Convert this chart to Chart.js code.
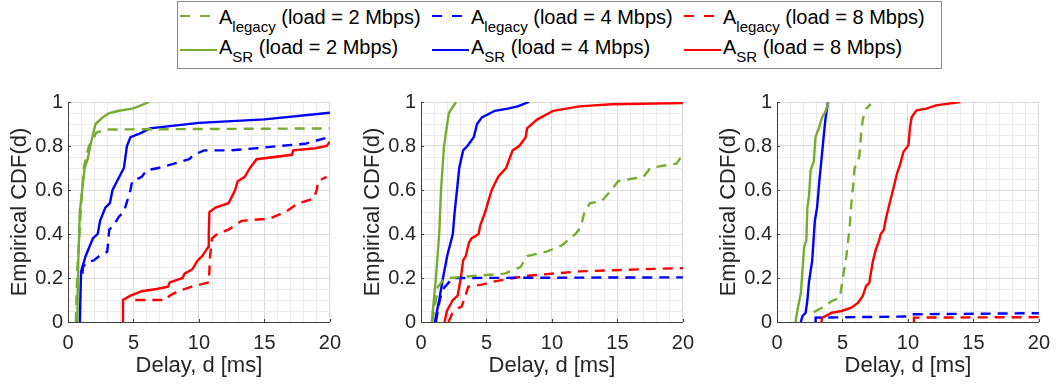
<!DOCTYPE html>
<html>
<head>
<meta charset="utf-8">
<title>Empirical CDF of delay</title>
<script src="https://cdn.jsdelivr.net/npm/chart.js@4/dist/chart.umd.min.js"></script>
<style>
  html, body { margin: 0; padding: 0; background: #fff; }
  body { width: 1059px; height: 388px; position: relative; overflow: hidden;
         font-family: "Liberation Sans", Arial, Helvetica, sans-serif; color: #262626; }
  canvas { position: absolute; top: 85px; }
  #legend { position: absolute; left: 177px; top: 1px; width: 763px; height: 66px;
            border: 1px solid #8a8a8a; background: #fff; }
  .lg-text { position: absolute; white-space: nowrap; font-size: 20px; line-height: 20px; color: #000; }
  .lg-text sub { font-size: 15px; vertical-align: -8px; line-height: 0; }
  .lg-line { position: absolute; overflow: visible; }
</style>
</head>
<body>
<div id="legend"></div>
<div id="legend-items"></div>
<canvas id="p1" width="350" height="303" style="left:0px"></canvas>
<canvas id="p2" width="350" height="303" style="left:353px"></canvas>
<canvas id="p3" width="350" height="303" style="left:709px"></canvas>

<script>
// ---- colours ----
const GREEN = '#77AC30';
const BLUE = '#0000FF';
const RED = '#FF0000';

// ---- axis ticks ----
const xMajorTicks = [0, 5, 10, 15, 20];
const yMajorTicks = [0, 0.2, 0.4, 0.6, 0.8, 1];

// ---- panel 1: delay [ms] / empirical CDF ----
const p1_leg2_x = [0.6, 0.72, 0.97, 1.2, 1.6, 2.0, 2.15, 2.9, 20];
const p1_leg2_y = [0, 0.25, 0.5, 0.7, 0.8, 0.84, 0.86, 0.875, 0.88];
const p1_leg4_x = [1.1, 1.15, 1.4, 1.97, 2.4, 3.0, 3.15, 3.5, 3.9, 4.27, 4.77, 4.9, 5.64, 6.0, 6.9, 8.1, 9.26, 9.6, 10.4, 12.4, 14.4, 16.1, 18.1, 19.9];
const p1_leg4_y = [0.22, 0.25, 0.27, 0.28, 0.3, 0.32, 0.42, 0.44, 0.48, 0.5, 0.6, 0.64, 0.66, 0.69, 0.7, 0.72, 0.74, 0.76, 0.78, 0.78, 0.79, 0.8, 0.81, 0.84];
const p1_leg8_x = [5.14, 7.5, 7.76, 8.4, 9.4, 10.76, 10.85, 11.0, 11.4, 12.26, 12.76, 13.26, 15.4, 16.6, 17.6, 18.75, 19.0, 19.1, 19.75];
const p1_leg8_y = [0.1, 0.1, 0.12, 0.14, 0.16, 0.18, 0.3, 0.38, 0.4, 0.42, 0.44, 0.46, 0.47, 0.5, 0.54, 0.56, 0.6, 0.64, 0.66];
const p1_sr2_x = [0.7, 0.78, 0.9, 1.27, 1.5, 1.7, 1.9, 2.1, 2.65, 3.15, 3.9, 4.9, 5.4, 6.2];
const p1_sr2_y = [0, 0.26, 0.5, 0.7, 0.74, 0.8, 0.85, 0.9, 0.93, 0.95, 0.96, 0.97, 0.98, 1.0];
const p1_sr4_x = [0.9, 1.0, 1.35, 1.9, 2.27, 2.45, 2.85, 3.2, 3.4, 4.27, 4.5, 4.77, 5.6, 6.25, 10, 15, 20];
const p1_sr4_y = [0, 0.23, 0.3, 0.38, 0.4, 0.46, 0.52, 0.54, 0.6, 0.7, 0.8, 0.84, 0.86, 0.88, 0.905, 0.921, 0.951];
const p1_sr8_x = [4.2, 4.2, 4.77, 5.64, 6.77, 7.64, 7.77, 8.76, 8.9, 9.5, 9.9, 10.26, 10.7, 10.75, 10.8, 11.26, 12.26, 12.6, 12.76, 12.96, 13.5, 13.9, 14.4, 17.1, 17.2, 18.9, 19.75, 20];
const p1_sr8_y = [0, 0.1, 0.12, 0.14, 0.15, 0.16, 0.18, 0.2, 0.22, 0.24, 0.28, 0.3, 0.34, 0.4, 0.5, 0.52, 0.54, 0.58, 0.6, 0.64, 0.66, 0.7, 0.74, 0.76, 0.78, 0.79, 0.8, 0.82];

// ---- panel 2 ----
const p2_leg2_x = [0.85, 1.3, 1.68, 2.18, 4.16, 6.4, 7.6, 8.1, 9.6, 10.8, 11.8, 12.2, 12.4, 12.5, 12.9, 13.8, 14.55, 15.05, 16.0, 17.0, 17.5, 19.5, 20];
const p2_leg2_y = [0, 0.16, 0.19, 0.2, 0.21, 0.22, 0.25, 0.3, 0.32, 0.35, 0.4, 0.43, 0.48, 0.5, 0.54, 0.55, 0.6, 0.64, 0.65, 0.66, 0.7, 0.72, 0.76];
const p2_leg4_x = [1.14, 1.43, 1.68, 1.98, 2.43, 20];
const p2_leg4_y = [0, 0.1, 0.15, 0.17, 0.2, 0.203];
const p2_leg8_x = [2.1, 2.4, 2.7, 3.1, 3.4, 3.6, 4.65, 5.64, 7.1, 8.1, 12.1, 17, 20];
const p2_leg8_y = [0, 0.04, 0.06, 0.07, 0.12, 0.16, 0.17, 0.185, 0.2, 0.21, 0.23, 0.24, 0.245];
const p2_sr2_x = [0.82, 1.14, 1.39, 1.53, 1.76, 1.9, 2.13, 2.67];
const p2_sr2_y = [0, 0.2, 0.4, 0.6, 0.8, 0.86, 0.95, 1];
const p2_sr4_x = [1.06, 1.39, 1.68, 2.0, 2.43, 2.57, 2.75, 2.92, 3.22, 3.54, 4.03, 4.28, 4.65, 5.64, 6.63, 7.38, 8.24];
const p2_sr4_y = [0, 0.1, 0.2, 0.3, 0.4, 0.5, 0.6, 0.7, 0.78, 0.8, 0.84, 0.9, 0.93, 0.96, 0.97, 0.98, 1];
const p2_sr8_x = [1.8, 1.98, 2.43, 2.8, 3.04, 3.22, 3.42, 3.66, 3.86, 4.4, 4.53, 4.9, 5.1, 5.4, 5.9, 6.5, 7.0, 7.5, 8.0, 8.1, 8.86, 10.1, 12.1, 14.55, 20];
const p2_sr8_y = [0, 0.05, 0.1, 0.12, 0.2, 0.28, 0.3, 0.36, 0.38, 0.4, 0.44, 0.5, 0.54, 0.6, 0.66, 0.7, 0.78, 0.8, 0.84, 0.88, 0.92, 0.96, 0.98, 0.99, 0.995];

// ---- panel 3 ----
const p3_leg2_x = [2.81, 3.44, 4.18, 4.8, 4.93, 5.3, 5.55, 5.68, 5.8, 5.93, 6.18, 6.3, 6.43, 6.55, 6.8, 7.17];
const p3_leg2_y = [0.045, 0.065, 0.095, 0.11, 0.163, 0.3, 0.43, 0.54, 0.61, 0.7, 0.73, 0.76, 0.86, 0.92, 0.97, 0.99];
const p3_leg4_x = [2.95, 2.95, 10, 10.3, 20];
const p3_leg4_y = [0, 0.02, 0.025, 0.035, 0.04];
const p3_leg8_x = [10.46, 10.46, 20];
const p3_leg8_y = [0, 0.02, 0.022];
const p3_sr2_x = [1.44, 1.44, 1.57, 1.82, 1.94, 2.07, 2.24, 2.32, 2.44, 2.57, 2.81, 2.94, 3.19, 3.44, 3.69, 3.94];
const p3_sr2_y = [0, 0.01, 0.057, 0.13, 0.23, 0.34, 0.37, 0.52, 0.57, 0.69, 0.73, 0.84, 0.88, 0.93, 0.955, 1];
const p3_sr4_x = [1.82, 1.94, 2.19, 2.32, 2.44, 2.69, 2.89, 3.06, 3.24, 3.44, 3.56, 3.69, 3.89];
const p3_sr4_y = [0, 0.027, 0.042, 0.1, 0.18, 0.28, 0.46, 0.52, 0.645, 0.765, 0.84, 0.917, 1];
const p3_sr8_x = [3.39, 3.44, 3.69, 4.18, 4.93, 5.68, 6.18, 6.55, 6.8, 7.05, 7.3, 7.55, 7.8, 7.92, 8.17, 8.3, 8.54, 8.92, 9.17, 9.42, 9.66, 10.04, 10.16, 10.29, 10.66, 11.4, 12.15, 14.0];
const p3_sr8_y = [0, 0.02, 0.027, 0.042, 0.05, 0.065, 0.087, 0.118, 0.163, 0.178, 0.27, 0.33, 0.37, 0.4, 0.42, 0.465, 0.525, 0.615, 0.676, 0.72, 0.774, 0.804, 0.887, 0.932, 0.962, 0.97, 0.985, 1.0];

// ---- legend entries ----
const legendEntries = [
  { base: 'A', sub: 'legacy', load: '(load = 2 Mbps)', color: GREEN, dashed: true },
  { base: 'A', sub: 'legacy', load: '(load = 4 Mbps)', color: BLUE, dashed: true },
  { base: 'A', sub: 'legacy', load: '(load = 8 Mbps)', color: RED, dashed: true },
  { base: 'A', sub: 'SR', load: '(load = 2 Mbps)', color: GREEN, dashed: false },
  { base: 'A', sub: 'SR', load: '(load = 4 Mbps)', color: BLUE, dashed: false },
  { base: 'A', sub: 'SR', load: '(load = 8 Mbps)', color: RED, dashed: false }
];

const FONT = '"Liberation Sans", Arial, Helvetica, sans-serif';
const AXIS_COLOR = '#404040';
const TEXT_COLOR = '#262626';
const GRID_MAJOR = '#d9d9d9';
const GRID_MINOR = '#ebebeb';
const DASH = [10, 7];

function pts(xs, ys) { return xs.map((x, i) => ({ x: x, y: ys[i] })); }

function series(xs, ys, color, dashed) {
  return {
    data: pts(xs, ys),
    borderColor: color,
    backgroundColor: color,
    borderWidth: 2.4,
    borderDash: dashed ? DASH : [],
    showLine: true,
    fill: false,
    pointRadius: 0,
    tension: 0
  };
}

const isMajorY = v => Math.round(v * 100) % 20 === 0;
const isMajorX = v => Math.round(v) % 5 === 0;

// short tick marks pointing into the plot area
const inwardTicks = {
  id: 'inwardTicks',
  afterDraw(chart) {
    const { ctx, chartArea, scales } = chart;
    ctx.save();
    ctx.strokeStyle = AXIS_COLOR;
    ctx.lineWidth = 1;
    ctx.beginPath();
    xMajorTicks.forEach(v => {
      const px = Math.round(scales.x.getPixelForValue(v)) + 0.5;
      ctx.moveTo(px, chartArea.bottom);
      ctx.lineTo(px, chartArea.bottom - 3);
    });
    yMajorTicks.forEach(v => {
      const py = Math.round(scales.y.getPixelForValue(v)) + 0.5;
      ctx.moveTo(chartArea.left, py);
      ctx.lineTo(chartArea.left + 3, py);
    });
    ctx.stroke();
    ctx.restore();
  }
};

function makePanel(id, rightPad, datasets) {
  return new Chart(document.getElementById(id), {
    type: 'scatter',
    data: { datasets: datasets },
    plugins: [inwardTicks],
    options: {
      responsive: false,
      animation: false,
      devicePixelRatio: 1,
      layout: { padding: { top: 14, right: rightPad, bottom: 0, left: 0 } },
      plugins: { legend: { display: false }, tooltip: { enabled: false } },
      scales: {
        x: {
          type: 'linear', min: 0, max: 20,
          afterFit(s) { s.height = 66; },
          ticks: {
            stepSize: 1, autoSkip: false, maxRotation: 0, padding: 9,
            color: TEXT_COLOR, font: { family: FONT, size: 20 },
            callback: v => isMajorX(v) ? String(Math.round(v)) : ''
          },
          grid: {
            drawTicks: false, lineWidth: 1,
            color: c => (c.tick && isMajorX(c.tick.value)) ? GRID_MAJOR : GRID_MINOR
          },
          border: { display: true, color: AXIS_COLOR, width: 1 },
          title: {
            display: true, text: 'Delay, d [ms]', color: TEXT_COLOR,
            font: { family: FONT, size: 22, lineHeight: 1.2 },
            padding: { top: 0, bottom: 9 }
          }
        },
        y: {
          type: 'linear', min: 0, max: 1,
          afterFit(s) { s.width = 68; },
          ticks: {
            stepSize: 0.05, autoSkip: false, padding: 5,
            color: TEXT_COLOR, font: { family: FONT, size: 20 },
            callback: v => {
              if (!isMajorY(v)) return '';
              const r = Math.round(v * 10) / 10;
              return r === 0 ? '0' : r === 1 ? '1' : r.toFixed(1);
            }
          },
          grid: {
            drawTicks: false, lineWidth: 1,
            color: c => (c.tick && isMajorY(c.tick.value)) ? GRID_MAJOR : GRID_MINOR
          },
          border: { display: true, color: AXIS_COLOR, width: 1 },
          title: {
            display: true, text: 'Empirical CDF(d)', color: TEXT_COLOR,
            font: { family: FONT, size: 22, lineHeight: 1.2 },
            padding: { top: 7, bottom: 0 }
          }
        }
      }
    }
  });
}

makePanel('p1', 15, [
  series(p1_leg2_x, p1_leg2_y, GREEN, true),
  series(p1_leg4_x, p1_leg4_y, BLUE, true),
  series(p1_leg8_x, p1_leg8_y, RED, true),
  series(p1_sr2_x, p1_sr2_y, GREEN, false),
  series(p1_sr4_x, p1_sr4_y, BLUE, false),
  series(p1_sr8_x, p1_sr8_y, RED, false)
]);
makePanel('p2', 13, [
  series(p2_leg2_x, p2_leg2_y, GREEN, true),
  series(p2_leg4_x, p2_leg4_y, BLUE, true),
  series(p2_leg8_x, p2_leg8_y, RED, true),
  series(p2_sr2_x, p2_sr2_y, GREEN, false),
  series(p2_sr4_x, p2_sr4_y, BLUE, false),
  series(p2_sr8_x, p2_sr8_y, RED, false)
]);
makePanel('p3', 14, [
  series(p3_leg2_x, p3_leg2_y, GREEN, true),
  series(p3_leg4_x, p3_leg4_y, BLUE, true),
  series(p3_leg8_x, p3_leg8_y, RED, true),
  series(p3_sr2_x, p3_sr2_y, GREEN, false),
  series(p3_sr4_x, p3_sr4_y, BLUE, false),
  series(p3_sr8_x, p3_sr8_y, RED, false)
]);

// ---- shared legend (two rows, three columns) ----
(function buildLegend() {
  const host = document.getElementById('legend-items');
  const colX = [180, 432, 684];
  const rowText = [7, 37];
  const rowLine = [16, 50];
  legendEntries.forEach((e, i) => {
    const col = i % 3, row = Math.floor(i / 3);
    const x0 = colX[col];
    const svgNS = 'http://www.w3.org/2000/svg';
    const svg = document.createElementNS(svgNS, 'svg');
    svg.setAttribute('class', 'lg-line');
    svg.setAttribute('width', '37');
    svg.setAttribute('height', '4');
    svg.style.left = x0 + 'px';
    svg.style.top = (rowLine[row] - 2) + 'px';
    const ln = document.createElementNS(svgNS, 'line');
    ln.setAttribute('x1', '0'); ln.setAttribute('y1', '2');
    ln.setAttribute('x2', '37'); ln.setAttribute('y2', '2');
    ln.setAttribute('stroke', e.color);
    ln.setAttribute('stroke-width', '2');
    if (e.dashed) ln.setAttribute('stroke-dasharray', '10 10');
    svg.appendChild(ln);
    host.appendChild(svg);

    const t = document.createElement('div');
    t.className = 'lg-text';
    t.style.left = (x0 + 39) + 'px';
    t.style.top = rowText[row] + 'px';
    t.appendChild(document.createTextNode(e.base));
    const s = document.createElement('sub');
    s.textContent = e.sub;
    t.appendChild(s);
    t.appendChild(document.createTextNode(' ' + e.load));
    host.appendChild(t);
  });
})();
</script>
</body>
</html>
